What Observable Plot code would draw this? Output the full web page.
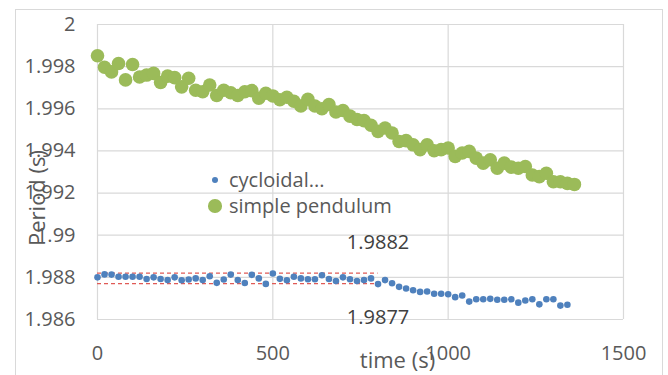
<!DOCTYPE html>
<html>
<head>
<meta charset="utf-8">
<script src="https://cdn.jsdelivr.net/npm/d3@7"></script>
<script src="https://cdn.jsdelivr.net/npm/@observablehq/plot@0.6"></script>
<style>
  html, body { margin: 0; padding: 0; background: #fff; }
  #chart { position: relative; width: 668px; height: 375px; overflow: hidden;
           font-family: "Open Sans", sans-serif; }
  #chart svg { position: absolute; left: 0; top: 0; }
  #border { position: absolute; left: 15px; top: 9px; width: 648px; height: 420px;
            border: 1px solid #d9d9d9; box-sizing: border-box; }
  .leg { position: absolute; left: 208px; height: 26px; line-height: 26px;
         font-size: 20px; color: #595959; white-space: nowrap; display: flex; align-items: center; }
  .leg .box { width: 14px; height: 26px; display: flex; align-items: center; justify-content: center; margin-right: 7px; }
  .leg .sw { border-radius: 50%; }
</style>
</head>
<body>
<div id="chart"><div id="border"></div></div>
<script>
// Period measurements (s) sampled every 20 s
const cycloidTime = [0,20,40,60,80,100,120,140,160,180,200,220,240,260,280,300,320,340,360,380,
  400,420,440,460,480,500,520,540,560,580,600,620,640,660,680,700,720,740,760,780,
  800,820,840,860,880,900,920,940,960,980,1000,1020,1040,1060,1080,1100,1120,1140,1160,1180,
  1200,1220,1240,1260,1280,1300,1320,1340];
const cycloidPeriod = [1.98800,1.98814,1.98813,1.98803,1.98803,1.98803,1.98803,1.98792,1.98800,1.98792,
  1.98787,1.98800,1.98786,1.98790,1.98795,1.98787,1.98805,1.98774,1.98790,1.98813,
  1.98787,1.98773,1.98812,1.98795,1.98769,1.98818,1.98793,1.98786,1.98803,1.98795,
  1.98791,1.98791,1.98810,1.98792,1.98783,1.98800,1.98791,1.98783,1.98787,1.98795,
  1.98768,1.98787,1.98772,1.98755,1.98747,1.98739,1.98731,1.98733,1.98722,1.98722,
  1.98720,1.98706,1.98714,1.98685,1.98696,1.98696,1.98698,1.98694,1.98694,1.98696,
  1.98680,1.98690,1.98696,1.98672,1.98696,1.98696,1.98666,1.98670];

const simpleTime = [0,20,40,60,80,100,120,140,160,180,200,220,240,260,280,300,320,340,360,380,
  400,420,440,460,480,500,520,540,560,580,600,620,640,660,680,700,720,740,760,780,
  800,820,840,860,880,900,920,940,960,980,1000,1020,1040,1060,1080,1100,1120,1140,1160,1180,
  1200,1220,1240,1260,1280,1300,1320,1340,1360];
const simplePeriod = [1.99852,1.99797,1.99775,1.99815,1.99737,1.99810,1.99751,1.99760,1.99768,1.99725,
  1.99755,1.99748,1.99704,1.99745,1.99688,1.99681,1.99713,1.99663,1.99688,1.99676,
  1.99663,1.99681,1.99686,1.99650,1.99674,1.99661,1.99643,1.99655,1.99636,1.99613,
  1.99645,1.99613,1.99600,1.99620,1.99585,1.99592,1.99565,1.99549,1.99544,1.99522,
  1.99493,1.99509,1.99485,1.99445,1.99449,1.99429,1.99406,1.99429,1.99401,1.99406,
  1.99414,1.99374,1.99390,1.99398,1.99366,1.99342,1.99358,1.99318,1.99342,1.99323,
  1.99318,1.99326,1.99286,1.99278,1.99294,1.99254,1.99254,1.99246,1.99241];

// Reference band for the cycloidal pendulum
const refLevels = [1.9882, 1.9877];
const refSpan = [0, 800];

const seriesNames = ["cycloidal...", "simple pendulum"];
const seriesColors = ["#4f81bd", "#9bbb59"];
const seriesRadius = [3.3, 6.8];

const xTicks = [0, 500, 1000, 1500];
const yTicks = [1.986, 1.988, 1.99, 1.992, 1.994, 1.996, 1.998, 2];
const xTitle = "time (s)";
const yTitle = "Period (s)";

const cycloid = cycloidTime.map((t, i) => ({t, p: cycloidPeriod[i]}));
const simple = simpleTime.map((t, i) => ({t, p: simplePeriod[i]}));

const grid = "#d9d9d9";
const tickColor = "#595959";

const plot = Plot.plot({
  width: 668,
  height: 375,
  marginLeft: 97,
  marginRight: 45,
  marginTop: 24,
  marginBottom: 56,
  style: {fontFamily: "Open Sans, sans-serif", background: "transparent", overflow: "visible"},
  x: {domain: [xTicks[0], xTicks[xTicks.length - 1]]},
  y: {domain: [yTicks[0], yTicks[yTicks.length - 1]]},
  marks: [
    Plot.gridX(xTicks, {stroke: grid, strokeOpacity: 1, strokeWidth: 1.2}),
    Plot.gridY(yTicks, {stroke: grid, strokeOpacity: 1, strokeWidth: 1.2}),
    Plot.axisX(xTicks, {tickSize: 0, tickPadding: 26, fontSize: 20, fill: tickColor, label: null,
      tickFormat: d => String(d)}),
    Plot.axisY(yTicks, {tickSize: 0, tickPadding: 22, fontSize: 20, fill: tickColor, label: null,
      tickFormat: d => String(+d.toFixed(3))}),
    Plot.text([yTitle], {frameAnchor: "left", rotate: -90, dx: -60, dy: 26, fontSize: 22,
      fill: tickColor, textAnchor: "middle"}),
    Plot.text([xTitle], {frameAnchor: "bottom", dx: 37, dy: 41, fontSize: 22, fill: tickColor,
      textAnchor: "middle", lineAnchor: "middle"}),
    Plot.ruleY(refLevels, {x1: refSpan[0], x2: refSpan[1], y: d => d, stroke: "#e05a56",
      strokeWidth: 1.3, strokeDasharray: "4,3"}),
    Plot.dot(cycloid, {x: "t", y: "p", r: seriesRadius[0], fill: seriesColors[0]}),
    Plot.dot(simple, {x: "t", y: "p", r: seriesRadius[1], fill: seriesColors[1]}),
    Plot.text([refLevels[0]], {x: refSpan[1], y: d => d, text: d => String(d), dy: -31,
      fontSize: 20, fill: "#404040", textAnchor: "middle"}),
    Plot.text([refLevels[1]], {x: refSpan[1], y: d => d, text: d => String(d), dy: 34,
      fontSize: 20, fill: "#404040", textAnchor: "middle"})
  ]
});

const chart = document.getElementById("chart");
chart.appendChild(plot);

// Legend drawn inside the plotting area
const legendTop = [167, 193];
seriesNames.forEach((name, i) => {
  const item = document.createElement("div");
  item.className = "leg";
  item.style.top = legendTop[i] + "px";
  const box = document.createElement("span");
  box.className = "box";
  const sw = document.createElement("span");
  sw.className = "sw";
  const d = seriesRadius[i] * 2;
  sw.style.width = d + "px";
  sw.style.height = d + "px";
  sw.style.background = seriesColors[i];
  box.appendChild(sw);
  item.appendChild(box);
  item.appendChild(document.createTextNode(name));
  chart.appendChild(item);
});
</script>
</body>
</html>
